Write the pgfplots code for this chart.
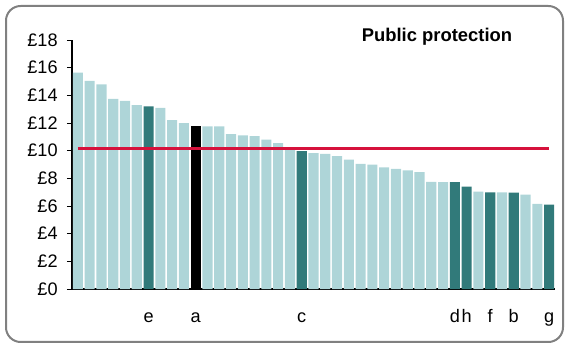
\documentclass[border=0pt]{standalone}
\usepackage{fontspec}
\setmainfont{Liberation Sans}
\usepackage{pgfplots}
\pgfplotsset{compat=1.18}

\definecolor{lightbar}{RGB}{174,213,216}
\definecolor{darkbar}{RGB}{49,122,122}
\definecolor{avgline}{RGB}{214,18,60}
\definecolor{framegray}{RGB}{128,128,128}

\begin{document}
\begin{tikzpicture}
% picture is 565 x 343 px, 1px = 0.75pt
\path[use as bounding box] (0,0) rectangle (423.75pt,257.25pt);
\draw[framegray, line width=1.5pt, rounded corners=11pt]
  (4.5pt,0.75pt) rectangle (422.25pt,252.75pt);

\begin{axis}[
  at={(54pt,40.5pt)}, anchor=south west,
  scale only axis,
  width=362.25pt, height=186.75pt,
  xmin=0.5, xmax=41.5,
  ymin=0, ymax=18,
  axis x line=bottom, axis y line=left,
  axis line style={-, black, line width=0.8pt},
  ybar, bar width=0.86, bar shift=0pt,
  ytick={0,2,...,18},
  yticklabels={£0,£2,£4,£6,£8,£10,£12,£14,£16,£18},
  tick align=outside, major tick length=3.75pt,
  ytick style={black, line width=0.6pt},
  yticklabel style={xshift=-3.5pt},
  xtick={7,11,20,33,34,36,38,41},
  xticklabels={e,a,c,d,h,f,b,g},
  xtick style={draw=none},
  xticklabel style={anchor=base, yshift=-21pt},
  tick label style={font=\fontsize{13.6}{15}\selectfont},
  /pgf/number format/assume math mode=true,
  clip=false,
]
\addplot[fill=lightbar, draw=none] coordinates {
  (1,15.65) (2,15.05) (3,14.8) (4,13.75) (5,13.6) (6,13.3)
  (8,13.1) (9,12.2) (10,12.0)
  (12,11.75) (13,11.75) (14,11.2) (15,11.1) (16,11.05) (17,10.8) (18,10.55) (19,10.25)
  (21,9.82) (22,9.77) (23,9.6) (24,9.35) (25,9.05) (26,9.0) (27,8.8) (28,8.68)
  (29,8.57) (30,8.45) (31,7.75) (32,7.72)
  (35,7.04) (37,6.98) (39,6.83) (40,6.15)
};
\addplot[fill=darkbar, draw=none] coordinates {
  (7,13.2) (20,9.97) (33,7.72) (34,7.4) (36,6.98) (38,6.96) (41,6.1)
};
\addplot[fill=black, draw=none] coordinates {
  (11,11.8)
};
% average line
\addplot[sharp plot, avgline, line width=1.9pt] coordinates {
  (1,10.15) (41,10.15)
};
\end{axis}

\node[font=\fontsize{13.8}{16}\selectfont\bfseries] at (327.75pt,229.5pt) {Public protection};
\end{tikzpicture}
\end{document}
